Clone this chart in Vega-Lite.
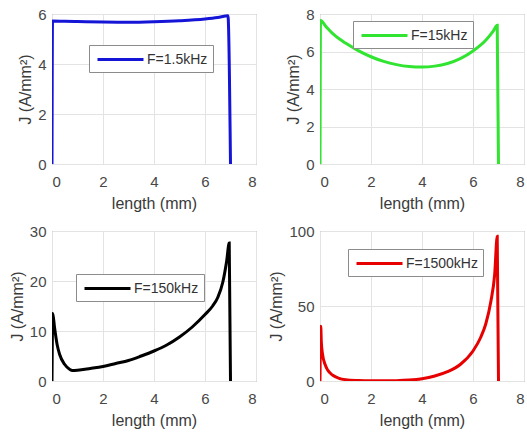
{
  "$schema": "https://vega.github.io/schema/vega-lite/v6.json",
  "padding": {"left": 8, "top": 6, "right": 0, "bottom": 0},
  "background": "white",
  "datasets": {
    "p1": [
      {"x": 0, "J": 0, "F": "F=1.5kHz"},
      {"x": 0.02, "J": 5.72, "F": "F=1.5kHz"},
      {"x": 0.5, "J": 5.71, "F": "F=1.5kHz"},
      {"x": 1, "J": 5.7, "F": "F=1.5kHz"},
      {"x": 2, "J": 5.68, "F": "F=1.5kHz"},
      {"x": 3, "J": 5.67, "F": "F=1.5kHz"},
      {"x": 4, "J": 5.69, "F": "F=1.5kHz"},
      {"x": 5, "J": 5.73, "F": "F=1.5kHz"},
      {"x": 6, "J": 5.8, "F": "F=1.5kHz"},
      {"x": 6.5, "J": 5.86, "F": "F=1.5kHz"},
      {"x": 6.9, "J": 5.93, "F": "F=1.5kHz"},
      {"x": 7.0, "J": 0, "F": "F=1.5kHz"}
    ],
    "p2": [
      {"x": 0, "J": 0, "F": "F=15kHz"},
      {"x": 0.02, "J": 7.65, "F": "F=15kHz"},
      {"x": 0.25, "J": 7.3, "F": "F=15kHz"},
      {"x": 0.5, "J": 6.95, "F": "F=15kHz"},
      {"x": 1, "J": 6.45, "F": "F=15kHz"},
      {"x": 1.5, "J": 6.05, "F": "F=15kHz"},
      {"x": 2, "J": 5.72, "F": "F=15kHz"},
      {"x": 2.5, "J": 5.47, "F": "F=15kHz"},
      {"x": 3, "J": 5.3, "F": "F=15kHz"},
      {"x": 3.5, "J": 5.2, "F": "F=15kHz"},
      {"x": 4, "J": 5.17, "F": "F=15kHz"},
      {"x": 4.5, "J": 5.22, "F": "F=15kHz"},
      {"x": 5, "J": 5.36, "F": "F=15kHz"},
      {"x": 5.5, "J": 5.62, "F": "F=15kHz"},
      {"x": 6, "J": 6.03, "F": "F=15kHz"},
      {"x": 6.5, "J": 6.6, "F": "F=15kHz"},
      {"x": 6.8, "J": 7.1, "F": "F=15kHz"},
      {"x": 6.95, "J": 7.4, "F": "F=15kHz"},
      {"x": 7.0, "J": 0, "F": "F=15kHz"}
    ],
    "p3": [
      {"x": 0, "J": 0, "F": "F=150kHz"},
      {"x": 0.03, "J": 13.5, "F": "F=150kHz"},
      {"x": 0.1, "J": 10.7, "F": "F=150kHz"},
      {"x": 0.2, "J": 7.3, "F": "F=150kHz"},
      {"x": 0.3, "J": 5.3, "F": "F=150kHz"},
      {"x": 0.5, "J": 3.3, "F": "F=150kHz"},
      {"x": 0.7, "J": 2.3, "F": "F=150kHz"},
      {"x": 0.8, "J": 2.1, "F": "F=150kHz"},
      {"x": 1, "J": 2.15, "F": "F=150kHz"},
      {"x": 1.5, "J": 2.5, "F": "F=150kHz"},
      {"x": 2, "J": 2.9, "F": "F=150kHz"},
      {"x": 2.5, "J": 3.5, "F": "F=150kHz"},
      {"x": 3, "J": 4.1, "F": "F=150kHz"},
      {"x": 3.5, "J": 5.0, "F": "F=150kHz"},
      {"x": 4, "J": 6.0, "F": "F=150kHz"},
      {"x": 4.5, "J": 7.2, "F": "F=150kHz"},
      {"x": 5, "J": 8.8, "F": "F=150kHz"},
      {"x": 5.5, "J": 10.8, "F": "F=150kHz"},
      {"x": 6, "J": 13.3, "F": "F=150kHz"},
      {"x": 6.3, "J": 15.0, "F": "F=150kHz"},
      {"x": 6.5, "J": 16.7, "F": "F=150kHz"},
      {"x": 6.7, "J": 19.8, "F": "F=150kHz"},
      {"x": 6.85, "J": 24.0, "F": "F=150kHz"},
      {"x": 6.95, "J": 27.6, "F": "F=150kHz"},
      {"x": 7.0, "J": 0, "F": "F=150kHz"}
    ],
    "p4": [
      {"x": 0, "J": 0, "F": "F=1500kHz"},
      {"x": 0.03, "J": 36.5, "F": "F=1500kHz"},
      {"x": 0.05, "J": 26.7, "F": "F=1500kHz"},
      {"x": 0.1, "J": 17.8, "F": "F=1500kHz"},
      {"x": 0.2, "J": 11.0, "F": "F=1500kHz"},
      {"x": 0.3, "J": 7.3, "F": "F=1500kHz"},
      {"x": 0.5, "J": 3.8, "F": "F=1500kHz"},
      {"x": 0.75, "J": 1.8, "F": "F=1500kHz"},
      {"x": 1, "J": 0.9, "F": "F=1500kHz"},
      {"x": 1.5, "J": 0.3, "F": "F=1500kHz"},
      {"x": 2, "J": 0.1, "F": "F=1500kHz"},
      {"x": 2.5, "J": 0.1, "F": "F=1500kHz"},
      {"x": 3, "J": 0.2, "F": "F=1500kHz"},
      {"x": 3.5, "J": 0.6, "F": "F=1500kHz"},
      {"x": 4, "J": 1.5, "F": "F=1500kHz"},
      {"x": 4.5, "J": 3.3, "F": "F=1500kHz"},
      {"x": 5, "J": 6.2, "F": "F=1500kHz"},
      {"x": 5.5, "J": 11.0, "F": "F=1500kHz"},
      {"x": 6, "J": 20.0, "F": "F=1500kHz"},
      {"x": 6.3, "J": 29.0, "F": "F=1500kHz"},
      {"x": 6.5, "J": 38.0, "F": "F=1500kHz"},
      {"x": 6.7, "J": 53.0, "F": "F=1500kHz"},
      {"x": 6.85, "J": 71.0, "F": "F=1500kHz"},
      {"x": 6.95, "J": 96.5, "F": "F=1500kHz"},
      {"x": 7.0, "J": 0, "F": "F=1500kHz"}
    ]
  },
  "columns": 2,
  "spacing": {"column": 64, "row": 67},
  "bounds": "flush",
  "resolve": {"scale": {"color": "independent", "x": "independent", "y": "independent"}, "legend": {"color": "independent"}},
  "concat": [
    {
      "width": 204, "height": 150,
      "data": {"name": "p1"},
      "mark": {"type": "line", "strokeWidth": 3, "clip": true, "interpolate": "monotone"},
      "encoding": {
        "x": {"field": "x", "type": "quantitative", "scale": {"domain": [0, 8]}, "axis": {"values": [0, 2, 4, 6, 8]}, "title": "length (mm)"},
        "y": {"field": "J", "type": "quantitative", "scale": {"domain": [0, 6]}, "axis": {"values": [0, 2, 4, 6]}, "title": "J (A/mm²)"},
        "color": {"field": "F", "type": "nominal", "scale": {"range": ["#1515d8"]}, "legend": {"orient": "none", "legendX": 37, "legendY": 31}}
      }
    },
    {
      "width": 204, "height": 150,
      "data": {"name": "p2"},
      "mark": {"type": "line", "strokeWidth": 3, "clip": true, "interpolate": "monotone"},
      "encoding": {
        "x": {"field": "x", "type": "quantitative", "scale": {"domain": [0, 8]}, "axis": {"values": [0, 2, 4, 6, 8]}, "title": "length (mm)"},
        "y": {"field": "J", "type": "quantitative", "scale": {"domain": [0, 8]}, "axis": {"values": [0, 2, 4, 6, 8]}, "title": "J (A/mm²)"},
        "color": {"field": "F", "type": "nominal", "scale": {"range": ["#30e430"]}, "legend": {"orient": "none", "legendX": 33, "legendY": 7}}
      }
    },
    {
      "width": 204, "height": 150,
      "data": {"name": "p3"},
      "mark": {"type": "line", "strokeWidth": 3, "clip": true, "interpolate": "monotone"},
      "encoding": {
        "x": {"field": "x", "type": "quantitative", "scale": {"domain": [0, 8]}, "axis": {"values": [0, 2, 4, 6, 8]}, "title": "length (mm)"},
        "y": {"field": "J", "type": "quantitative", "scale": {"domain": [0, 30]}, "axis": {"values": [0, 10, 20, 30]}, "title": "J (A/mm²)"},
        "color": {"field": "F", "type": "nominal", "scale": {"range": ["#000000"]}, "legend": {"orient": "none", "legendX": 24, "legendY": 43}}
      }
    },
    {
      "width": 204, "height": 150,
      "data": {"name": "p4"},
      "mark": {"type": "line", "strokeWidth": 3, "clip": true, "interpolate": "monotone"},
      "encoding": {
        "x": {"field": "x", "type": "quantitative", "scale": {"domain": [0, 8]}, "axis": {"values": [0, 2, 4, 6, 8]}, "title": "length (mm)"},
        "y": {"field": "J", "type": "quantitative", "scale": {"domain": [0, 100]}, "axis": {"values": [0, 50, 100]}, "title": "J (A/mm²)"},
        "color": {"field": "F", "type": "nominal", "scale": {"range": ["#e60000"]}, "legend": {"orient": "none", "legendX": 28, "legendY": 18}}
      }
    }
  ],
  "config": {
    "font": "Liberation Sans",
    "view": {"stroke": "#8c8c8c", "strokeWidth": 1},
    "axis": {
      "ticks": false,
      "domain": false,
      "grid": true,
      "gridColor": "#e3e3e3",
      "gridWidth": 1,
      "labelFont": "Liberation Sans",
      "labelFontSize": 15,
      "labelColor": "#474747",
      "titleFont": "Liberation Sans",
      "titleFontSize": 16,
      "titleFontWeight": "normal",
      "titleColor": "#3a3a3a"
    },
    "axisX": {"labelPadding": 10, "titlePadding": 6},
    "axisY": {"labelPadding": 6, "titlePadding": 4},
    "legend": {
      "title": null,
      "symbolType": "M-0.75,0H5",
      "symbolSize": 256,
      "symbolStrokeWidth": 3,
      "symbolFillColor": "transparent",
      "labelFont": "Liberation Sans",
      "labelFontSize": 14,
      "labelColor": "#333333",
      "labelOffset": 34,
      "padding": 5,
      "strokeColor": "#8c8c8c",
      "fillColor": "white",
      "cornerRadius": 0
    }
  }
}
